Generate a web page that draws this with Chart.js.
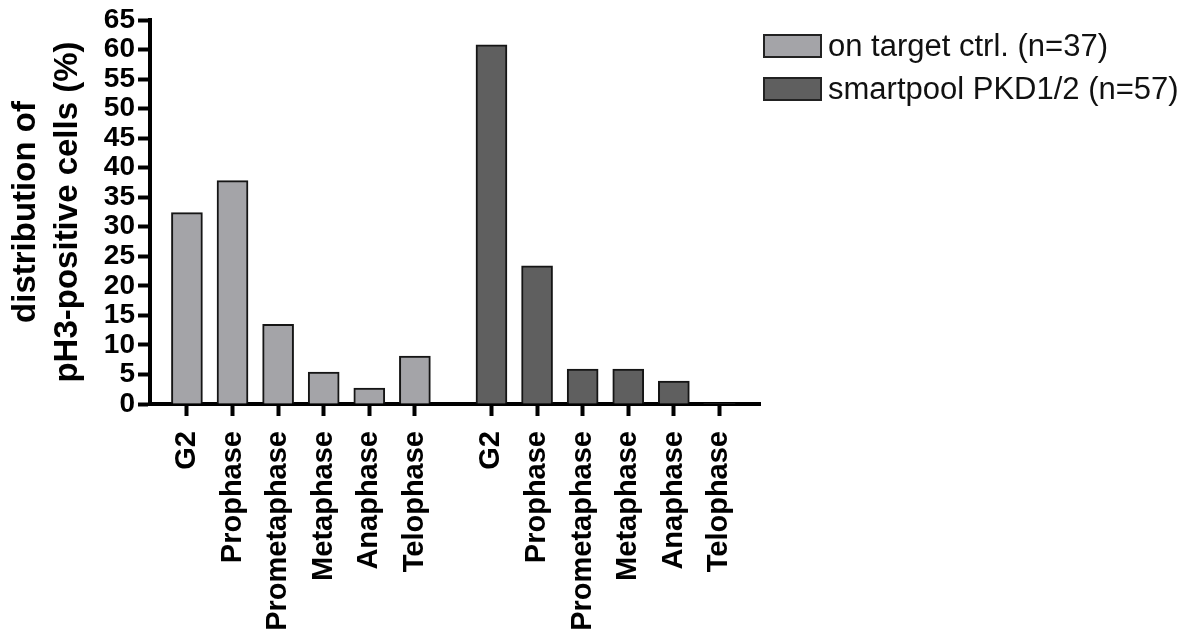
<!DOCTYPE html>
<html>
<head>
<meta charset="utf-8">
<script src="https://cdn.jsdelivr.net/npm/chart.js@4/dist/chart.umd.min.js"></script>
<style>
  html, body { margin: 0; padding: 0; background: #ffffff; }
  #wrap { width: 1193px; height: 640px; }
</style>
</head>
<body>
<div id="wrap"><canvas id="chart" width="1193" height="640"></canvas></div>
<script>
// Mitotic phases, shown once per siRNA condition
const phases = ['G2', 'Prophase', 'Prometaphase', 'Metaphase', 'Anaphase', 'Telophase'];

// Share of pH3-positive cells in each phase (%)
const ctrlValues = [32.4, 37.8, 13.5, 5.4, 2.7, 8.1];
const pkdValues = [60.8, 23.4, 5.9, 5.9, 3.9, 0];

// Series names
const seriesNames = ['on target ctrl. (n=37)', 'smartpool PKD1/2 (n=57)'];

// Axis
const yMin = 0, yMax = 65, yStep = 5;
const yTitle = ['distribution of', 'pH3-positive cells (%)'];

// Layout helpers: the second group is set apart from the first by a gap
const groupOffset = phases.length + 0.68;
const ctrlX = phases.map((_, i) => i);
const pkdX = phases.map((_, i) => i + groupOffset);
const tickPositions = ctrlX.concat(pkdX);
const tickLabels = phases.concat(phases);

const FONT = '"Liberation Sans", Arial, Helvetica, sans-serif';
Chart.defaults.font.family = FONT;
Chart.defaults.color = '#000';

const colors = ['#a4a4a8', '#5f5f5f'];

// Empty bars get no outline
const outline = (c) => (c.raw && c.raw.y === 0 ? 0 : 2);

// Legend drawn as two stacked rows to the right of the plot
const sideLegend = {
  id: 'sideLegend',
  afterDraw(chart) {
    const ctx = chart.ctx;
    ctx.save();
    chart.data.datasets.forEach((ds, i) => {
      const bx = 764, by = 35 + i * 43;
      ctx.fillStyle = ds.backgroundColor;
      ctx.fillRect(bx, by, 57, 22);
      ctx.lineWidth = 2;
      ctx.strokeStyle = '#222';
      ctx.strokeRect(bx, by, 57, 22);
      ctx.fillStyle = '#111';
      ctx.font = '31px ' + FONT;
      ctx.textBaseline = 'middle';
      ctx.textAlign = 'left';
      ctx.fillText(ds.label, 828, by + 12);
    });
    ctx.restore();
  }
};

new Chart(document.getElementById('chart'), {
  type: 'bar',
  data: {
    datasets: [
      {
        label: seriesNames[0],
        data: ctrlValues.map((v, i) => ({ x: ctrlX[i], y: v })),
        backgroundColor: colors[0],
        borderColor: '#151515',
        borderWidth: outline,
        barThickness: 31,
        grouped: false
      },
      {
        label: seriesNames[1],
        data: pkdValues.map((v, i) => ({ x: pkdX[i], y: v })),
        backgroundColor: colors[1],
        borderColor: '#151515',
        borderWidth: outline,
        barThickness: 31,
        grouped: false
      }
    ]
  },
  options: {
    responsive: false,
    animation: false,
    devicePixelRatio: 1,
    layout: { padding: { top: 20, left: 0, right: 433, bottom: 0 } },
    plugins: {
      legend: { display: false },
      tooltip: { enabled: false }
    },
    scales: {
      x: {
        type: 'linear',
        min: -0.81,
        max: 12.57,
        bounds: 'data',
        offset: false,
        z: 1,
        afterFit(scale) { scale.height = 236; },
        afterBuildTicks(scale) {
          scale.ticks = tickPositions.map(v => ({ value: v }));
        },
        grid: {
          display: true,
          offset: false,
          drawOnChartArea: false,
          drawTicks: true,
          tickLength: 12,
          tickWidth: 4,
          tickColor: '#000'
        },
        border: { display: true, color: '#000', width: 4 },
        ticks: {
          autoSkip: false,
          minRotation: 90,
          maxRotation: 90,
          padding: 15,
          color: '#000',
          font: { size: 29, weight: 'bold', family: FONT },
          callback: (value, index) => tickLabels[index]
        }
      },
      y: {
        min: yMin,
        max: yMax,
        z: 1,
        afterFit(scale) { scale.width = 150; },
        grid: {
          display: true,
          drawOnChartArea: false,
          drawTicks: true,
          tickLength: 12,
          tickWidth: 4,
          tickColor: '#000'
        },
        border: { display: true, color: '#000', width: 4 },
        ticks: {
          stepSize: yStep,
          autoSkip: false,
          padding: 3,
          color: '#000',
          font: { size: 28, weight: 'bold', family: FONT, lineHeight: 1 }
        },
        title: {
          display: true,
          text: yTitle,
          color: '#000',
          padding: { top: 5, bottom: 0 },
          font: { size: 33, weight: 'bold', family: FONT, lineHeight: 1.27 }
        }
      }
    }
  },
  plugins: [sideLegend]
});
</script>
</body>
</html>
